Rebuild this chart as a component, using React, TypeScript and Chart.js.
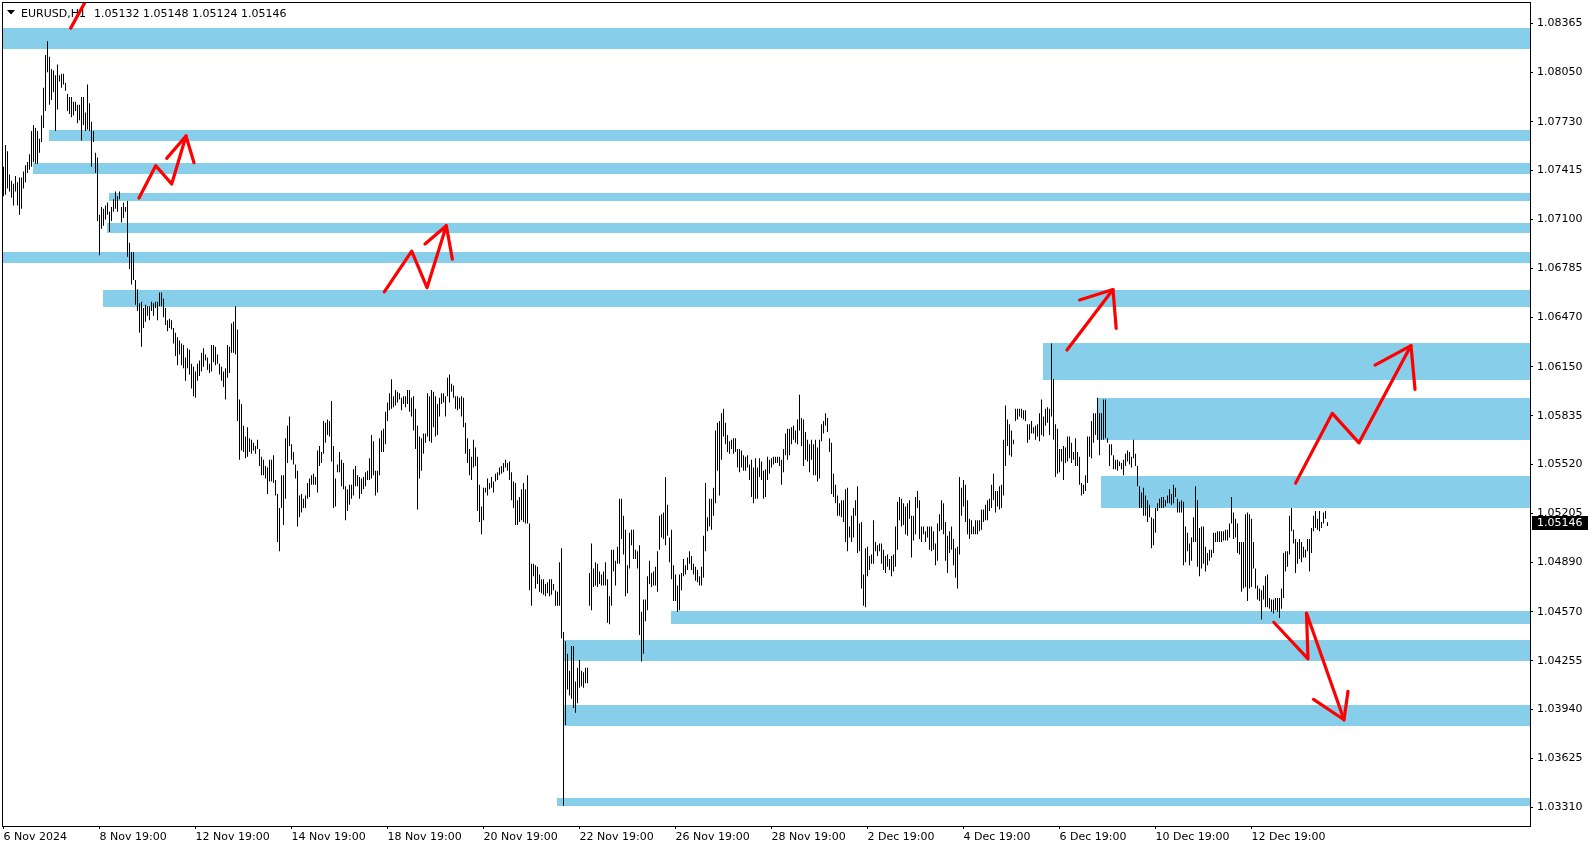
import React, { useEffect, useRef } from 'react';
import { Chart, registerables } from 'chart.js';

Chart.register(...registerables);

// ---------- data ----------
const HIGH = [
1.0744,1.0758,1.0754,1.0739,1.0735,1.0733,1.0738,1.0734,1.0737,1.0737,
1.0741,1.0745,1.0747,1.0752,1.0767,1.0771,1.0769,1.0767,1.0762,1.0777,
1.0795,1.0816,1.0825,1.0815,1.0807,1.0806,1.0803,1.0810,1.0803,1.0804,
1.0804,1.0798,1.0791,1.0789,1.0789,1.0786,1.0786,1.0784,1.0784,1.0789,
1.0789,1.0779,1.0797,1.0785,1.0773,1.0767,1.0753,1.0750,1.0713,1.0718,
1.0717,1.0719,1.0721,1.0715,1.0718,1.0723,1.0728,1.0725,1.0728,1.0718,
1.0721,1.0718,1.0722,1.0695,1.0689,1.0689,1.0671,1.0665,1.0656,1.0657,
1.0653,1.0655,1.0654,1.0654,1.0657,1.0656,1.0657,1.0657,1.0663,1.0663,
1.0659,1.0653,1.0645,1.0646,1.0645,1.0640,1.0637,1.0634,1.0632,1.0630,
1.0629,1.0621,1.0627,1.0626,1.0617,1.0615,1.0612,1.0617,1.0619,1.0624,
1.0627,1.0623,1.0621,1.0617,1.0629,1.0629,1.0628,1.0623,1.0617,1.0615,
1.0612,1.0614,1.0629,1.0628,1.0643,1.0644,1.0654,1.0639,1.0594,1.0591,
1.0577,1.0570,1.0576,1.0569,1.0568,1.0566,1.0564,1.0568,1.0562,1.0557,
1.0555,1.0551,1.0550,1.0555,1.0555,1.0558,1.0542,1.0533,1.0524,1.0545,
1.0545,1.0569,1.0577,1.0583,1.0565,1.0560,1.0552,1.0548,1.0532,1.0533,
1.0530,1.0532,1.0540,1.0543,1.0545,1.0546,1.0544,1.0561,1.0564,1.0560,
1.0580,1.0579,1.0581,1.0580,1.0593,1.0564,1.0543,1.0552,1.0560,1.0555,
1.0553,1.0538,1.0536,1.0539,1.0539,1.0549,1.0551,1.0545,1.0544,1.0543,
1.0544,1.0547,1.0548,1.0556,1.0571,1.0567,1.0548,1.0548,1.0569,1.0574,
1.0575,1.0586,1.0592,1.0598,1.0607,1.0596,1.0600,1.0599,1.0598,1.0595,
1.0596,1.0596,1.0600,1.0600,1.0595,1.0596,1.0588,1.0577,1.0570,1.0569,
1.0572,1.0572,1.0598,1.0596,1.0600,1.0599,1.0596,1.0591,1.0595,1.0598,
1.0598,1.0596,1.0608,1.0610,1.0604,1.0603,1.0596,1.0596,1.0595,1.0596,
1.0595,1.0579,1.0569,1.0562,1.0557,1.0568,1.0563,1.0557,1.0539,1.0525,
1.0537,1.0537,1.0543,1.0540,1.0544,1.0541,1.0546,1.0547,1.0550,1.0551,
1.0553,1.0555,1.0553,1.0554,1.0547,1.0541,1.0540,1.0529,1.0531,1.0536,
1.0540,1.0536,1.0545,1.0514,1.0488,1.0488,1.0487,1.0486,1.0481,1.0478,
1.0478,1.0475,1.0476,1.0478,1.0478,1.0475,1.0471,1.0470,1.0489,1.0498,
1.0444,1.0438,1.0430,1.0419,1.0435,1.0435,1.0412,1.0421,1.0426,1.0419,
1.0418,1.0421,1.0421,1.0482,1.0501,1.0485,1.0489,1.0488,1.0483,1.0481,
1.0483,1.0489,1.0478,1.0467,1.0497,1.0497,1.0490,1.0499,1.0530,1.0530,
1.0519,1.0510,1.0487,1.0508,1.0510,1.0510,1.0497,1.0496,1.0500,1.0457,
1.0465,1.0465,1.0480,1.0490,1.0482,1.0483,1.0486,1.0496,1.0519,1.0520,
1.0521,1.0544,1.0526,1.0505,1.0510,1.0487,1.0481,1.0474,1.0481,1.0482,
1.0491,1.0487,1.0492,1.0496,1.0493,1.0488,1.0486,1.0484,1.0480,1.0486,
1.0506,1.0540,1.0518,1.0530,1.0530,1.0537,1.0574,1.0579,1.0580,1.0585,
1.0588,1.0579,1.0571,1.0567,1.0568,1.0569,1.0569,1.0562,1.0562,1.0561,
1.0558,1.0557,1.0558,1.0552,1.0555,1.0550,1.0556,1.0550,1.0556,1.0554,
1.0548,1.0549,1.0557,1.0555,1.0556,1.0557,1.0557,1.0557,1.0557,1.0555,
1.0562,1.0572,1.0575,1.0575,1.0576,1.0577,1.0574,1.0581,1.0597,1.0582,
1.0581,1.0573,1.0568,1.0565,1.0568,1.0565,1.0568,1.0563,1.0568,1.0578,
1.0580,1.0585,1.0582,1.0569,1.0566,1.0546,1.0539,1.0532,1.0527,1.0529,
1.0529,1.0536,1.0537,1.0512,1.0519,1.0524,1.0529,1.0538,1.0514,1.0515,
1.0481,1.0498,1.0499,1.0493,1.0494,1.0516,1.0502,1.0500,1.0501,1.0501,
1.0497,1.0493,1.0494,1.0491,1.0493,1.0494,1.0512,1.0528,1.0531,1.0530,
1.0527,1.0525,1.0527,1.0529,1.0519,1.0519,1.0531,1.0535,1.0529,1.0512,
1.0512,1.0509,1.0512,1.0512,1.0512,1.0509,1.0501,1.0514,1.0520,1.0529,
1.0527,1.0515,1.0506,1.0509,1.0512,1.0504,1.0498,1.0499,1.0544,1.0537,
1.0542,1.0539,1.0529,1.0517,1.0516,1.0512,1.0516,1.0516,1.0516,1.0523,
1.0523,1.0526,1.0529,1.0530,1.0539,1.0546,1.0535,1.0535,1.0538,1.0539,
1.0568,1.0590,1.0581,1.0578,1.0574,1.0568,1.0588,1.0588,1.0588,1.0588,
1.0587,1.0587,1.0578,1.0578,1.0580,1.0576,1.0577,1.0578,1.0585,1.0594,
1.0583,1.0588,1.0589,1.0588,1.0630,1.0607,1.0578,1.0575,1.0562,1.0562,
1.0564,1.0563,1.0570,1.0570,1.0566,1.0560,1.0569,1.0560,1.0557,1.0540,
1.0539,1.0545,1.0570,1.0570,1.0580,1.0585,1.0585,1.0595,1.0585,1.0585,
1.0594,1.0594,1.0569,1.0565,1.0565,1.0558,1.0555,1.0555,1.0554,1.0553,
1.0555,1.0559,1.0561,1.0560,1.0557,1.0568,1.0559,1.0551,1.0538,1.0534,
1.0537,1.0532,1.0529,1.0526,1.0518,1.0517,1.0524,1.0527,1.0530,1.0531,
1.0531,1.0529,1.0532,1.0536,1.0533,1.0539,1.0537,1.0530,1.0528,1.0529,
1.0528,1.0512,1.0508,1.0501,1.0505,1.0518,1.0538,1.0529,1.0511,1.0512,
1.0512,1.0499,1.0495,1.0497,1.0497,1.0508,1.0508,1.0509,1.0509,1.0509,
1.0509,1.0510,1.0510,1.0514,1.0531,1.0521,1.0517,1.0514,1.0502,1.0502,
1.0502,1.0520,1.0521,1.0520,1.0517,1.0502,1.0485,1.0474,1.0472,1.0471,
1.0474,1.0480,1.0481,1.0466,1.0465,1.0465,1.0466,1.0466,1.0466,1.0472,
1.0495,1.0496,1.0496,1.0519,1.0524,1.0510,1.0504,1.0502,1.0504,1.0502,
1.0499,1.0497,1.0504,1.0504,1.0511,1.0519,1.0522,1.0517,1.0522,1.0515,
1.0521,1.0522,1.05148
];

const LOW = [
1.0725,1.0726,1.0730,1.0728,1.0724,1.0719,1.0728,1.0719,1.0713,1.0717,
1.0730,1.0734,1.0740,1.0742,1.0744,1.0747,1.0746,1.0746,1.0753,1.0760,
1.0769,1.0780,1.0805,1.0784,1.0787,1.0792,1.0767,1.0781,1.0799,1.0795,
1.0797,1.0793,1.0780,1.0778,1.0776,1.0777,1.0780,1.0772,1.0774,1.0761,
1.0771,1.0767,1.0768,1.0767,1.0744,1.0760,1.0740,1.0709,1.0687,1.0704,
1.0706,1.0710,1.0713,1.0702,1.0709,1.0715,1.0717,1.0715,1.0723,1.0708,
1.0711,1.0715,1.0686,1.0678,1.0668,1.0671,1.0655,1.0651,1.0637,1.0628,
1.0640,1.0644,1.0648,1.0645,1.0651,1.0648,1.0653,1.0645,1.0654,1.0654,
1.0647,1.0642,1.0638,1.0640,1.0639,1.0630,1.0622,1.0616,1.0623,1.0616,
1.0614,1.0606,1.0614,1.0610,1.0601,1.0596,1.0595,1.0606,1.0609,1.0612,
1.0615,1.0619,1.0613,1.0611,1.0612,1.0618,1.0616,1.0617,1.0610,1.0606,
1.0602,1.0594,1.0608,1.0611,1.0624,1.0624,1.0623,1.0580,1.0555,1.0561,
1.0560,1.0556,1.0557,1.0560,1.0559,1.0561,1.0559,1.0562,1.0551,1.0545,
1.0545,1.0543,1.0533,1.0541,1.0541,1.0540,1.0532,1.0502,1.0496,1.0524,
1.0513,1.0530,1.0553,1.0564,1.0555,1.0552,1.0543,1.0512,1.0518,1.0521,
1.0524,1.0524,1.0530,1.0531,1.0539,1.0539,1.0539,1.0534,1.0551,1.0553,
1.0559,1.0566,1.0571,1.0570,1.0554,1.0524,1.0525,1.0547,1.0547,1.0538,
1.0536,1.0516,1.0522,1.0526,1.0530,1.0532,1.0538,1.0538,1.0530,1.0533,
1.0536,1.0538,1.0542,1.0542,1.0543,1.0545,1.0532,1.0534,1.0545,1.0560,
1.0560,1.0565,1.0580,1.0587,1.0588,1.0589,1.0590,1.0592,1.0594,1.0587,
1.0591,1.0589,1.0591,1.0586,1.0583,1.0574,1.0562,1.0523,1.0543,1.0548,
1.0559,1.0566,1.0570,1.0567,1.0566,1.0576,1.0570,1.0571,1.0583,1.0591,
1.0592,1.0583,1.0596,1.0592,1.0599,1.0595,1.0588,1.0587,1.0588,1.0583,
1.0576,1.0559,1.0553,1.0545,1.0542,1.0550,1.0551,1.0522,1.0515,1.0507,
1.0516,1.0534,1.0532,1.0536,1.0537,1.0534,1.0541,1.0542,1.0545,1.0546,
1.0547,1.0550,1.0548,1.0542,1.0529,1.0524,1.0513,1.0513,1.0515,1.0516,
1.0515,1.0514,1.0514,1.0471,1.0461,1.0480,1.0472,1.0475,1.0470,1.0469,
1.0468,1.0467,1.0469,1.0467,1.0468,1.0471,1.0461,1.0461,1.0461,1.0440,
1.0332,1.0384,1.0407,1.0403,1.0401,1.0395,1.0392,1.0398,1.0408,1.0409,
1.0408,1.0411,1.0411,1.0461,1.0458,1.0473,1.0474,1.0473,1.0475,1.0474,
1.0474,1.0474,1.0450,1.0449,1.0461,1.0483,1.0474,1.0488,1.0488,1.0504,
1.0494,1.0467,1.0469,1.0485,1.0500,1.0491,1.0491,1.0485,1.0442,1.0425,
1.0430,1.0451,1.0458,1.0475,1.0473,1.0474,1.0474,1.0470,1.0497,1.0505,
1.0504,1.0500,1.0506,1.0489,1.0478,1.0464,1.0464,1.0457,1.0458,1.0471,
1.0480,1.0481,1.0484,1.0488,1.0484,1.0481,1.0477,1.0476,1.0474,1.0474,
1.0479,1.0496,1.0509,1.0512,1.0510,1.0519,1.0527,1.0548,1.0532,1.0555,
1.0570,1.0565,1.0560,1.0559,1.0562,1.0559,1.0560,1.0550,1.0547,1.0550,
1.0548,1.0548,1.0550,1.0542,1.0531,1.0527,1.0530,1.0530,1.0544,1.0542,
1.0530,1.0531,1.0542,1.0546,1.0550,1.0552,1.0553,1.0553,1.0551,1.0539,
1.0547,1.0558,1.0555,1.0558,1.0565,1.0568,1.0566,1.0565,1.0574,1.0564,
1.0551,1.0555,1.0554,1.0547,1.0555,1.0545,1.0545,1.0541,1.0543,1.0567,
1.0572,1.0577,1.0573,1.0560,1.0533,1.0531,1.0527,1.0519,1.0519,1.0518,
1.0515,1.0502,1.0496,1.0505,1.0502,1.0505,1.0519,1.0495,1.0496,1.0472,
1.0461,1.0460,1.0480,1.0484,1.0488,1.0488,1.0496,1.0493,1.0496,1.0488,
1.0484,1.0482,1.0486,1.0484,1.0480,1.0483,1.0486,1.0497,1.0516,1.0512,
1.0513,1.0507,1.0506,1.0517,1.0492,1.0503,1.0507,1.0524,1.0504,1.0502,
1.0507,1.0502,1.0505,1.0497,1.0496,1.0497,1.0487,1.0490,1.0509,1.0510,
1.0507,1.0490,1.0482,1.0495,1.0497,1.0487,1.0479,1.0472,1.0494,1.0519,
1.0525,1.0515,1.0507,1.0504,1.0507,1.0507,1.0507,1.0507,1.0509,1.0510,
1.0515,1.0516,1.0516,1.0522,1.0524,1.0529,1.0521,1.0525,1.0523,1.0524,
1.0532,1.0551,1.0564,1.0558,1.0557,1.0565,1.0580,1.0581,1.0583,1.0582,
1.0581,1.0580,1.0566,1.0568,1.0572,1.0572,1.0568,1.0570,1.0567,1.0571,
1.0570,1.0577,1.0579,1.0571,1.0583,1.0568,1.0544,1.0546,1.0547,1.0554,
1.0542,1.0553,1.0554,1.0556,1.0553,1.0555,1.0551,1.0551,1.0539,1.0532,
1.0533,1.0535,1.0540,1.0557,1.0556,1.0566,1.0571,1.0568,1.0558,1.0568,
1.0568,1.0569,1.0566,1.0551,1.0558,1.0549,1.0549,1.0548,1.0551,1.0549,
1.0545,1.0551,1.0554,1.0552,1.0550,1.0556,1.0551,1.0538,1.0524,1.0524,
1.0519,1.0519,1.0515,1.0518,1.0498,1.0500,1.0508,1.0522,1.0524,1.0524,
1.0524,1.0525,1.0527,1.0527,1.0526,1.0527,1.0531,1.0521,1.0521,1.0521,
1.0487,1.0489,1.0496,1.0487,1.0490,1.0502,1.0502,1.0486,1.0480,1.0485,
1.0488,1.0483,1.0487,1.0490,1.0492,1.0495,1.0502,1.0502,1.0502,1.0502,
1.0503,1.0503,1.0503,1.0505,1.0514,1.0504,1.0505,1.0495,1.0494,1.0470,
1.0472,1.0473,1.0464,1.0472,1.0473,1.0485,1.0472,1.0465,1.0464,1.0452,
1.0465,1.0460,1.0460,1.0459,1.0457,1.0456,1.0458,1.0457,1.0453,1.0459,
1.0466,1.0483,1.0486,1.0494,1.0509,1.0501,1.0482,1.0488,1.0491,1.0489,
1.0492,1.0492,1.0496,1.0483,1.0495,1.0509,1.0511,1.0510,1.0509,1.0511,
1.0514,1.0517,1.05124
];

// last bar OHLC (header text) and current price
const LAST_OHLC = [1.05132, 1.05148, 1.05124, 1.05146];
const SYMBOL = 'EURUSD,H1';

// time axis: bar index of each label and label text
const TIME_TICKS = [0, 48, 96, 144, 192, 240, 288, 336, 384, 432, 480, 528, 576, 624];
const TIME_LABELS = [
  '6 Nov 2024', '8 Nov 19:00', '12 Nov 19:00', '14 Nov 19:00', '18 Nov 19:00',
  '20 Nov 19:00', '22 Nov 19:00', '26 Nov 19:00', '28 Nov 19:00', '2 Dec 19:00',
  '4 Dec 19:00', '6 Dec 19:00', '10 Dec 19:00', '12 Dec 19:00'
];

// price axis
const PRICE_TICKS = [
  1.08365, 1.0805, 1.0773, 1.07415, 1.071, 1.06785, 1.0647, 1.0615, 1.05835,
  1.0552, 1.05205, 1.0489, 1.0457, 1.04255, 1.0394, 1.03625, 1.0331
];
const PRICE_MIN = 1.03189;
const PRICE_MAX = 1.08496;
const BAR_MIN = -0.25;
const BAR_MAX = 763.25;

// support / resistance zones: start bar, top price, bottom price
const ZONE_START = [-5, 23, 15, 53, 52, -5, 50, 520, 547, 549, 334, 280, 280, 277];
const ZONE_TOP = [1.08335, 1.07677, 1.07464, 1.07273, 1.07079, 1.0689, 1.06645, 1.06304, 1.05949, 1.05446, 1.04576, 1.04389, 1.0397, 1.0337];
const ZONE_BOTTOM = [1.08201, 1.07608, 1.07395, 1.07221, 1.07015, 1.06821, 1.06534, 1.06067, 1.0568, 1.05242, 1.04494, 1.04255, 1.03836, 1.0332];

// red hand-drawn arrows: [bar index, price]
const ARROW_1 = [[33.6, 1.08334], [42, 1.0853]];
const ARROW_2 = [[67.75, 1.07238], [76.1, 1.07447], [84.1, 1.07329], [91.25, 1.07638]];
const ARROW_2_HEAD = [[81.6, 1.07494], [91.25, 1.07638], [95.25, 1.07466]];
const ARROW_3 = [[190.4, 1.06633], [204.1, 1.06896], [211.75, 1.0666], [221.4, 1.0706]];
const ARROW_3_HEAD = [[210.75, 1.06942], [221.4, 1.0706], [224.45, 1.06844]];
const ARROW_4 = [[531.75, 1.06258], [554.75, 1.06648]];
const ARROW_4_HEAD = [[538.05, 1.06581], [554.75, 1.06648], [556.35, 1.06398]];
const ARROW_5 = [[646.05, 1.054], [664.4, 1.0585], [677.75, 1.0566], [703.75, 1.06287]];
const ARROW_5_HEAD = [[685.75, 1.06161], [703.75, 1.06287], [705.75, 1.06004]];
const ARROW_6 = [[635.15, 1.04503], [652.25, 1.04267], [651.5, 1.04562], [670.25, 1.03874]];
const ARROW_6_HEAD = [[655, 1.04005], [670.25, 1.03874], [672.25, 1.04058]];

const ARROWS = [ARROW_1, ARROW_2, ARROW_2_HEAD, ARROW_3, ARROW_3_HEAD, ARROW_4, ARROW_4_HEAD, ARROW_5, ARROW_5_HEAD, ARROW_6, ARROW_6_HEAD];

const FONT = '"DejaVu Sans", Verdana, sans-serif';
const ZONE_COLOR = '#87CEEB';

const overlayPlugin = {
  id: 'mt4overlay',
  beforeDatasetsDraw(chart: any) {
    const { ctx, chartArea: a, scales } = chart;
    const xs = scales.x;
    const ys = scales.y;
    ctx.save();
    ctx.beginPath();
    ctx.rect(a.left, a.top, a.right - a.left, a.bottom - a.top);
    ctx.clip();
    ctx.fillStyle = ZONE_COLOR;
    for (let k = 0; k < ZONE_START.length; k++) {
      const x0 = Math.max(a.left, Math.floor(xs.getPixelForValue(ZONE_START[k])));
      const y0 = Math.round(ys.getPixelForValue(ZONE_TOP[k]));
      const y1 = Math.round(ys.getPixelForValue(ZONE_BOTTOM[k]));
      ctx.fillRect(x0, y0, a.right - x0, y1 - y0);
    }
    // header
    ctx.fillStyle = '#000';
    ctx.beginPath();
    ctx.moveTo(7, 10);
    ctx.lineTo(15, 10);
    ctx.lineTo(11, 14.5);
    ctx.closePath();
    ctx.fill();
    ctx.font = '11px ' + FONT;
    ctx.textBaseline = 'alphabetic';
    ctx.textAlign = 'left';
    ctx.fillText(SYMBOL, 21, 17);
    ctx.fillText(LAST_OHLC.map((v) => v.toFixed(5)).join(' '), 94, 17);
    ctx.restore();
  },
  afterDraw(chart: any) {
    const { ctx, chartArea: a, scales } = chart;
    ctx.save();
    ctx.strokeStyle = '#000';
    ctx.lineWidth = 1;
    ctx.strokeRect(a.left - 0.5, a.top - 0.5, a.right - a.left + 1, a.bottom - a.top + 1);
    const yp = Math.round(scales.y.getPixelForValue(LAST_OHLC[3]));
    ctx.fillStyle = '#000';
    ctx.fillRect(a.right + 2, yp - 7, 56, 14);
    ctx.fillStyle = '#fff';
    ctx.font = '11px ' + FONT;
    ctx.textBaseline = 'middle';
    ctx.textAlign = 'left';
    ctx.fillText(LAST_OHLC[3].toFixed(5), a.right + 7, yp + 0.5);
    ctx.restore();
  }
};

export default function App() {
  const ref = useRef<HTMLCanvasElement>(null);

  useEffect(() => {
    document.body.style.margin = '0';
    Chart.defaults.font.family = FONT;
    Chart.defaults.font.size = 11;
    Chart.defaults.color = '#000';

    const bars = HIGH.map((h, i) => ({ x: i, y: [LOW[i], h] }));
    const arrowSets = ARROWS.map((pts) => ({
      type: 'line' as const,
      data: pts.map(([x, y]) => ({ x, y })),
      borderColor: '#FF0000',
      borderWidth: 3.2,
      borderJoinStyle: 'round' as const,
      borderCapStyle: 'round' as const,
      pointRadius: 0,
      fill: false,
      tension: 0,
      order: 0
    }));

    const chart = new Chart(ref.current as HTMLCanvasElement, {
      type: 'bar',
      data: {
        datasets: [
          ...arrowSets,
          {
            type: 'bar' as const,
            data: bars as any,
            backgroundColor: '#000',
            borderWidth: 0,
            barThickness: 1,
            inflateAmount: 0,
            grouped: false,
            order: 1
          } as any
        ]
      },
      options: {
        animation: false,
        responsive: false,
        maintainAspectRatio: false,
        devicePixelRatio: 1,
        events: [],
        layout: { padding: { left: 3, top: 3, right: 0, bottom: 0 } },
        plugins: { legend: { display: false }, tooltip: { enabled: false } },
        scales: {
          x: {
            type: 'linear',
            position: 'bottom',
            min: BAR_MIN,
            max: BAR_MAX,
            offset: false,
            grid: { display: true, drawOnChartArea: false, drawTicks: true, tickLength: 3, color: '#000', offset: false },
            border: { display: true, color: '#000' },
            ticks: {
              autoSkip: false,
              maxRotation: 0,
              minRotation: 0,
              align: 'start',
              padding: 2,
              font: { family: FONT, size: 11 },
              color: '#000',
              callback: (_v: any, i: number) => TIME_LABELS[i]
            },
            afterBuildTicks: (axis: any) => {
              axis.ticks = TIME_TICKS.map((v) => ({ value: v }));
            },
            afterFit: (axis: any) => {
              axis.height = 24;
              axis.paddingLeft = 0;
              axis.paddingRight = 0;
              axis.paddingTop = 0;
              axis.paddingBottom = 0;
            }
          },
          y: {
            type: 'linear',
            position: 'right',
            min: PRICE_MIN,
            max: PRICE_MAX,
            grid: { display: true, drawOnChartArea: false, drawTicks: true, tickLength: 3, color: '#000' },
            border: { display: true, color: '#000' },
            ticks: {
              padding: 4,
              font: { family: FONT, size: 11 },
              color: '#000',
              callback: (v: any) => Number(v).toFixed(5)
            },
            afterBuildTicks: (axis: any) => {
              axis.ticks = PRICE_TICKS.map((v) => ({ value: v }));
            },
            afterFit: (axis: any) => {
              axis.width = 64;
              axis.paddingLeft = 0;
              axis.paddingRight = 0;
              axis.paddingTop = 0;
              axis.paddingBottom = 0;
            }
          }
        }
      } as any,
      plugins: [overlayPlugin]
    });
    return () => chart.destroy();
  }, []);

  return (
    <div style={{ width: 1594, height: 850, background: '#fff' }}>
      <canvas ref={ref} width={1594} height={850} style={{ display: 'block' }} />
    </div>
  );
}
